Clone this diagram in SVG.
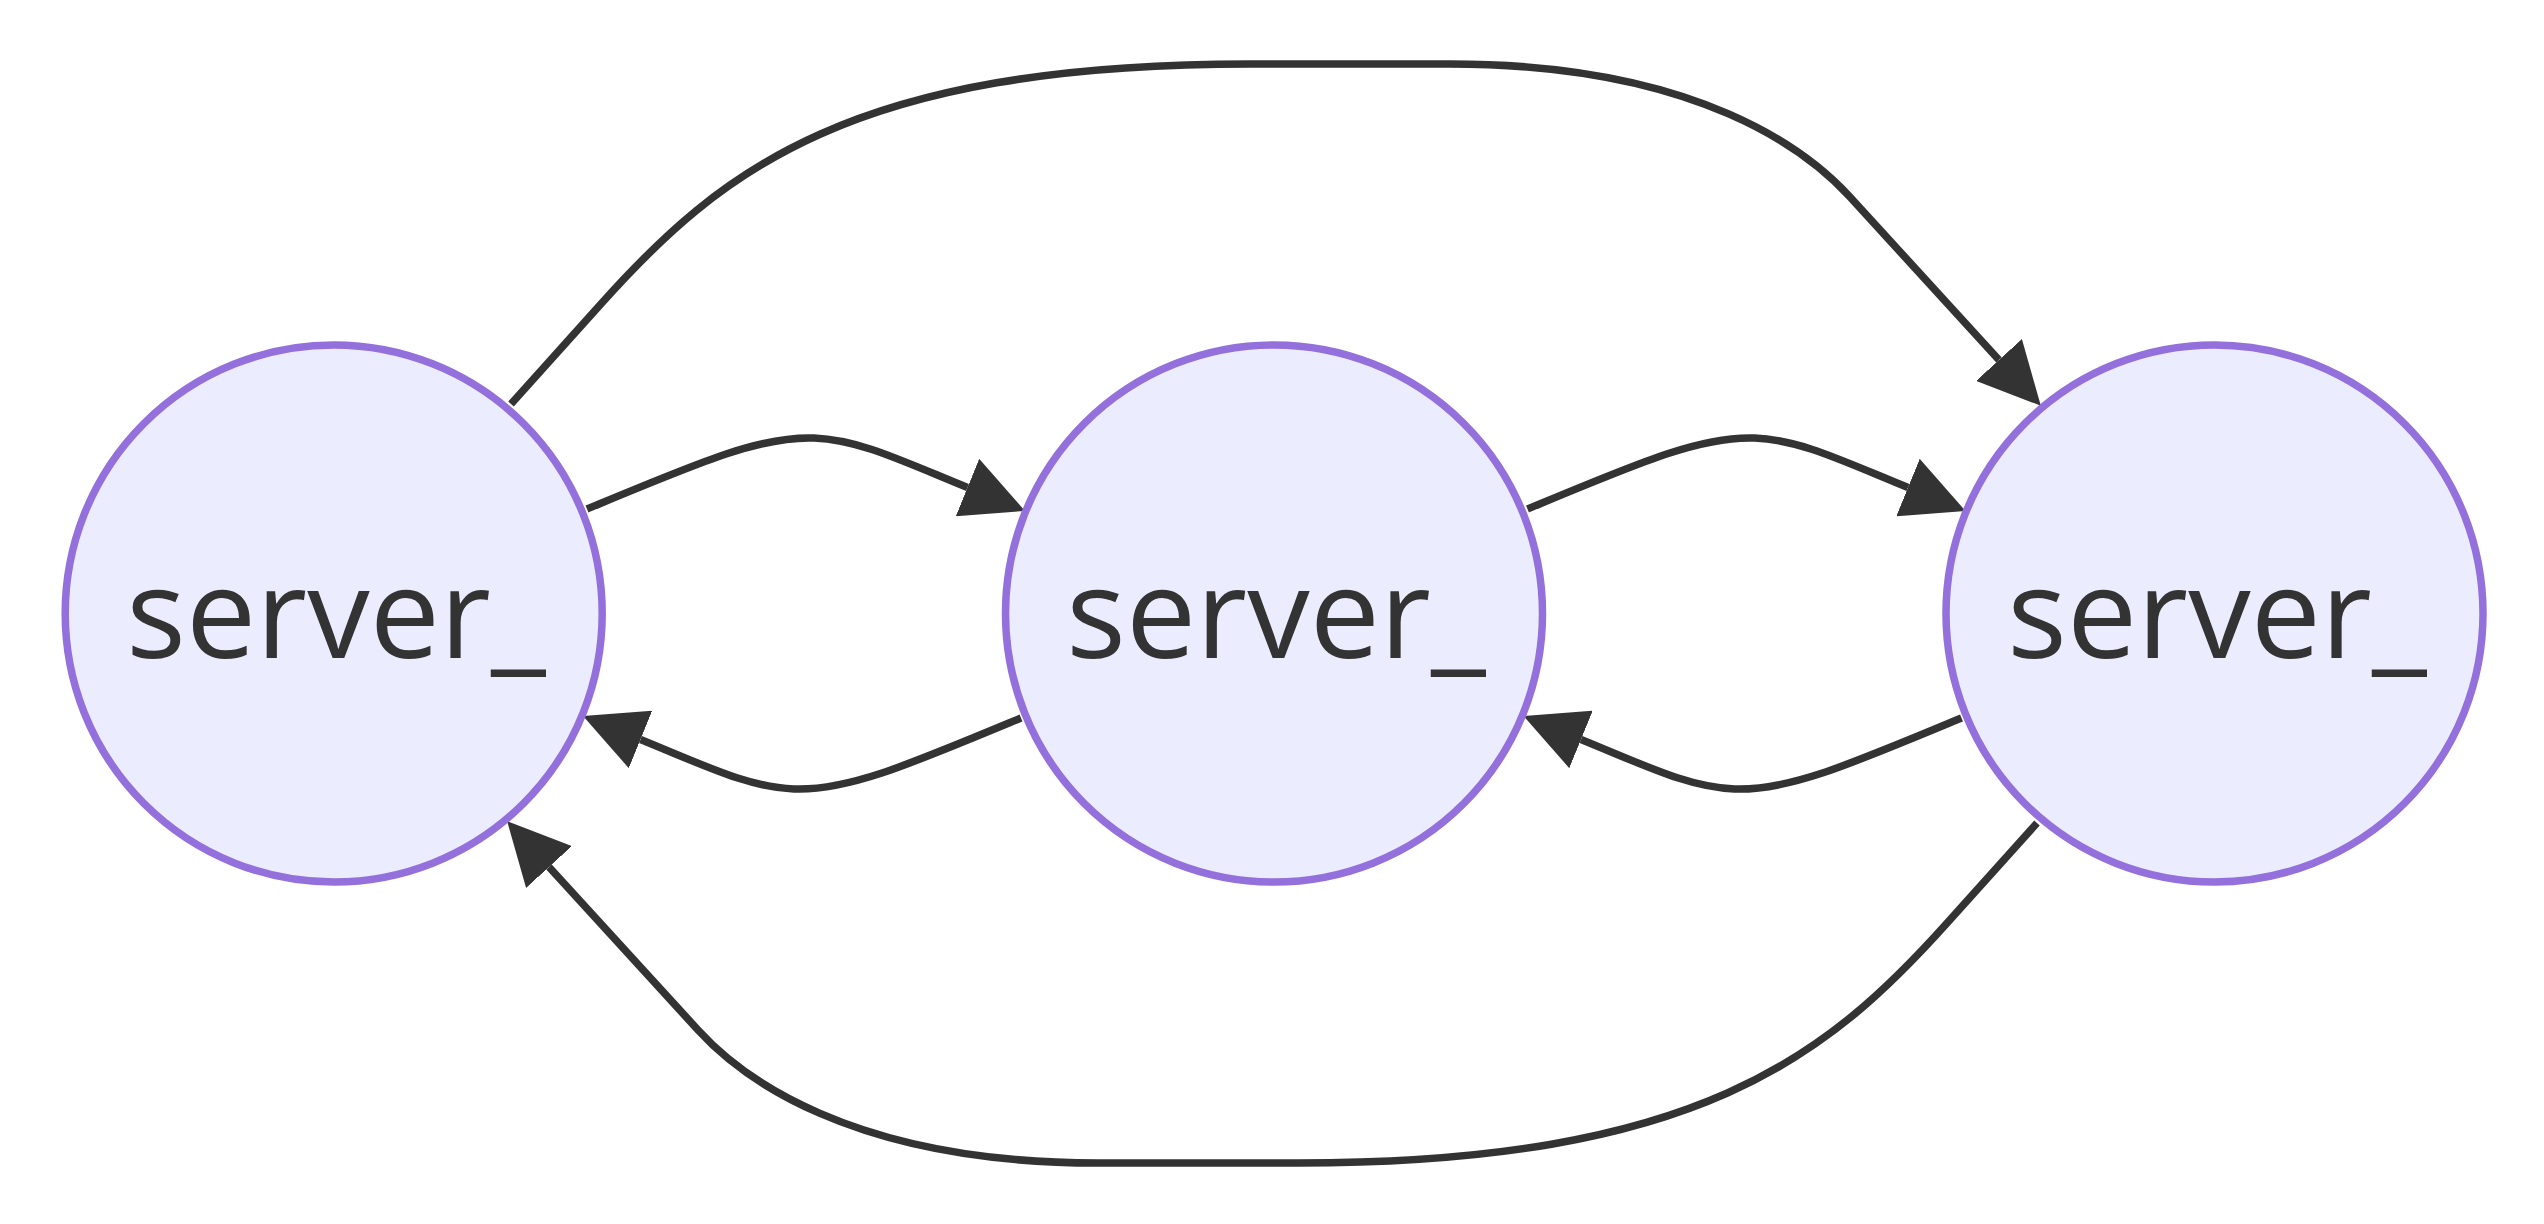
<svg xmlns="http://www.w3.org/2000/svg" width="2544" height="1224" viewBox="0 0 2544 1224">
  <style>
    .edge { fill: none; stroke: #333333; stroke-width: 7.5; marker-end: url(#arrowhead); }
    .node circle { fill: #ECECFF; stroke: #9370DB; stroke-width: 7.5; }
    .node text { font-family: "Open Sans", "Liberation Sans", sans-serif; font-size: 125px; font-weight: 500; fill: #333333; text-anchor: middle; }
  </style>
  <defs>
    <marker id="arrowhead" viewBox="0 0 10 10" refX="0" refY="5" markerUnits="userSpaceOnUse" markerWidth="62" markerHeight="62" orient="auto">
      <path d="M0,0 L10,5 L0,10 z" fill="#333333"/>
    </marker>
  </defs>
  <rect width="2544" height="1224" fill="#ffffff"/>

  <g id="connectors">
    <!-- A to B, over the top -->
    <path class="edge" d="M587,509 C700,462 760,436 814,438 C860,440 900,460 967.5,487.5"/>
    <!-- B to A, underneath -->
    <path class="edge" d="M1021,718 C908,765 848,791 794,789 C748,787 708,767 640.5,739.5"/>
    <!-- B to C, over the top -->
    <path class="edge" d="M1527.5,509 C1640.5,462 1700.5,436 1754.5,438 C1800.5,440 1840.5,460 1908,487.5"/>
    <!-- C to B, underneath -->
    <path class="edge" d="M1961.5,718 C1848.5,765 1788.5,791 1734.5,789 C1688.5,787 1648.5,767 1581,739.5"/>
    <!-- A to C, long arc above -->
    <path class="edge" d="M511,404 L600,305 C720,171 850,64 1250,64 L1450,64 C1700,64 1809.6,152.7 1850,197 L1999,360"/>
    <!-- C to A, long arc below -->
    <path class="edge" d="M2037,823 L1948,922 C1828,1056 1698,1163 1298,1163 L1098,1163 C848,1163 738.4,1074.3 698,1030 L549,867"/>
  </g>

  <g id="node-a" class="node">
    <circle cx="333.7" cy="613.5" r="268.5"/>
    <text x="336" y="658">server_</text>
  </g>
  <g id="node-b" class="node">
    <circle cx="1274" cy="613.5" r="268.5"/>
    <text x="1276" y="658">server_</text>
  </g>
  <g id="node-c" class="node">
    <circle cx="2214.5" cy="613.5" r="268.5"/>
    <text x="2217" y="658">server_</text>
  </g>
</svg>
